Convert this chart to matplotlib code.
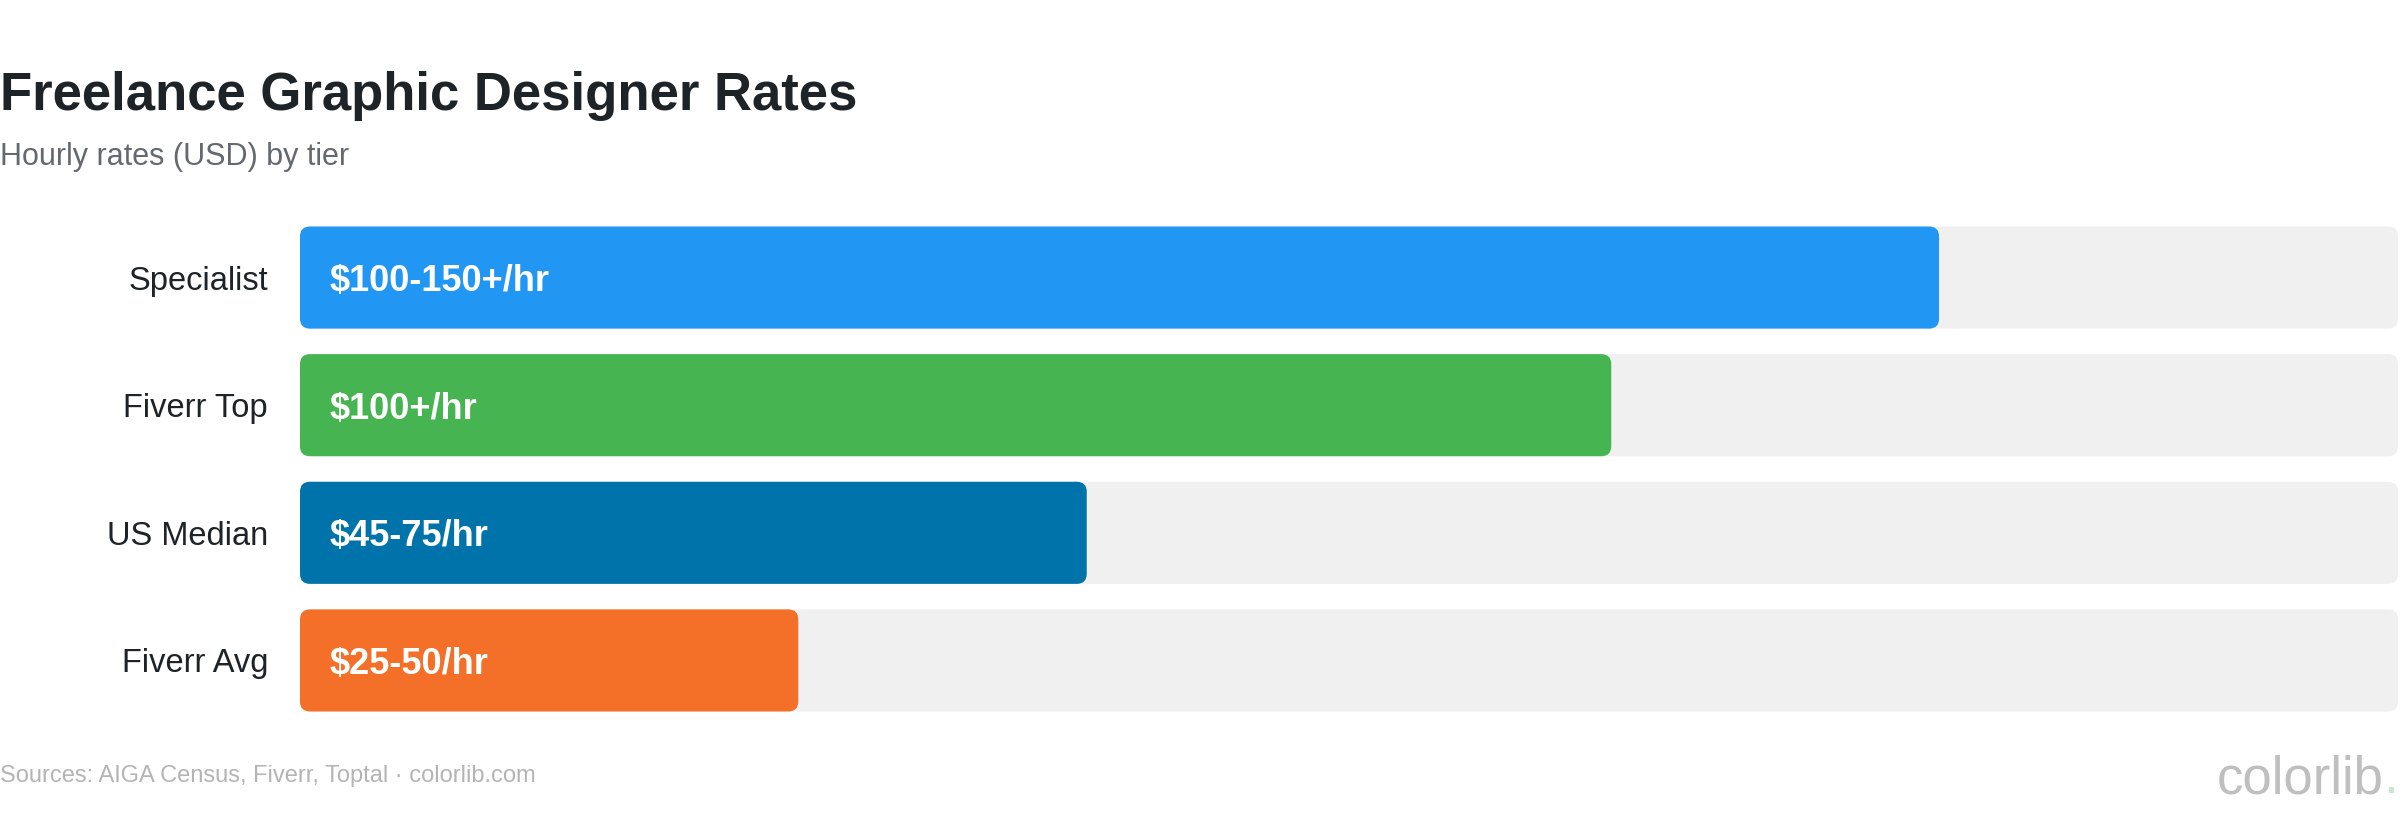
import matplotlib
matplotlib.use("Agg")
import matplotlib.pyplot as plt
from matplotlib.patches import FancyBboxPatch

# data
tiers = ["Specialist", "Fiverr Top", "US Median", "Fiverr Avg"]
rates = [125, 100, 60, 38]          # roughly the middle of each hourly range (USD)
rate_labels = ["$100-150+/hr", "$100+/hr", "$45-75/hr", "$25-50/hr"]
colors = ["#2196F3", "#46B450", "#0073AA", "#F47028"]
scale_max = 160

W, H, DPI = 2400, 830, 100
plt.rcParams["font.family"] = ["Liberation Sans", "DejaVu Sans"]

fig = plt.figure(figsize=(W / DPI, H / DPI), dpi=DPI)
fig.patch.set_facecolor("white")

# bar area in pixels: x 300..2398, y 226..711
ax_left, ax_right = 300, 2398
ax_top, ax_bot = 226.5, 711.5
ax = fig.add_axes([ax_left / W, 1 - ax_bot / H, (ax_right - ax_left) / W, (ax_bot - ax_top) / H])

bar_h = 0.8
ax.set_xlim(0, scale_max)
ax.set_ylim(len(tiers) - 1 + bar_h / 2, -bar_h / 2)

# rounded corners, circular in pixel space
px_x = (ax_right - ax_left) / scale_max
px_y = (ax_bot - ax_top) / (len(tiers) - 1 + bar_h)
aspect = px_x / px_y
radius = 10 / px_x

def rbar(x0, y0, w, h, color):
    p = FancyBboxPatch((x0, y0), w, h,
                       boxstyle=f"round,pad=0,rounding_size={radius}",
                       mutation_aspect=aspect, facecolor=color,
                       edgecolor="none", linewidth=0)
    ax.add_patch(p)

for i, (v, lab, c) in enumerate(zip(rates, rate_labels, colors)):
    rbar(0, i - bar_h / 2, scale_max, bar_h, "#F0F0F0")
    rbar(0, i - bar_h / 2, v, bar_h, c)
    ax.annotate(lab, xy=(0, i), xytext=(21, 0), textcoords="offset points",
                va="center_baseline", ha="left", color="white",
                fontsize=26, fontweight="bold")

ax.set_yticks(range(len(tiers)))
ax.set_yticklabels(tiers, fontsize=23.5, color="#1d2327")
ax.tick_params(axis="y", length=0, pad=23)
ax.set_xticks([])
for s in ax.spines.values():
    s.set_visible(False)
ax.patch.set_alpha(0)

# titles
fig.text(0.0, 1 - 110 / H, "Freelance Graphic Designer Rates", fontsize=38,
         fontweight="bold", color="#1d2327", va="baseline", ha="left")
fig.text(0.0, 1 - 165 / H, "Hourly rates (USD) by tier", fontsize=22,
         color="#646970", va="baseline", ha="left")

# footer
fig.text(0.0, 1 - 782 / H, "Sources: AIGA Census, Fiverr, Toptal \u00b7 colorlib.com",
         fontsize=17, color="#b4b4b4", va="baseline", ha="left")
fig.text(2384 / W, 1 - 793 / H, "colorlib", fontsize=38, color="#bfbfbf",
         va="baseline", ha="right")
fig.text(2383 / W, 1 - 793 / H, ".", fontsize=38, color="#c8e6c9",
         va="baseline", ha="left")

fig.savefig("out.png", dpi=DPI, facecolor="white")
